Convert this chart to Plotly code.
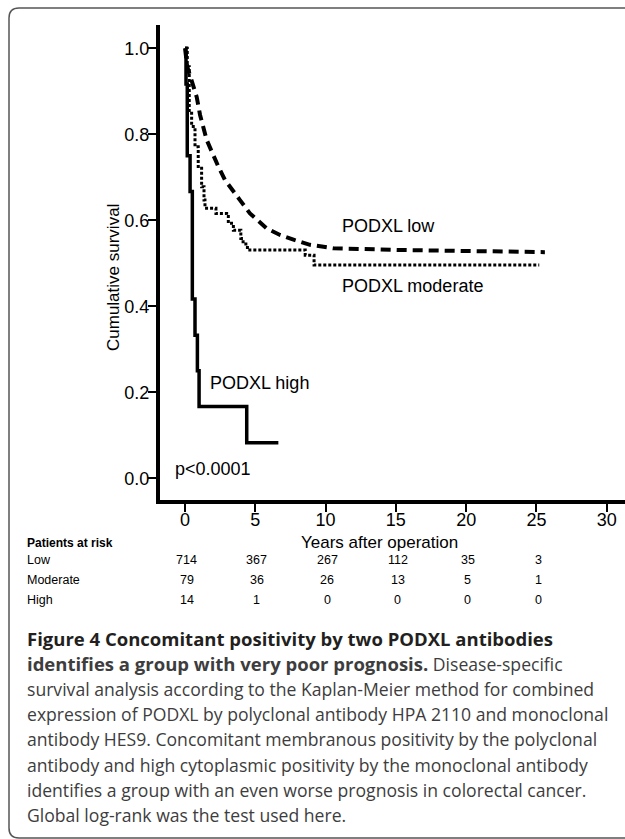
import plotly.graph_objects as go

# ---------------- data ----------------
low_years = [0, 0.16, 0.47, 0.83, 1.07, 1.54, 2.37, 2.84, 3.91, 4.62, 5.81, 6.76, 7.82, 8.89, 10.55, 15.3, 25.6]
low_surv = [1.0, 0.957, 0.925, 0.887, 0.845, 0.787, 0.725, 0.694, 0.647, 0.616, 0.581, 0.566, 0.554, 0.543, 0.535, 0.531, 0.526]

mod_years = [0, 0.16, 0.30, 0.47, 0.71, 0.94, 1.18, 1.35, 1.42, 2.2, 2.96, 3.08, 3.44, 3.97, 4.13, 4.44, 8.55, 9.18, 25.2]
mod_surv = [1.0, 0.957, 0.849, 0.818, 0.771, 0.725, 0.678, 0.647, 0.628, 0.616, 0.609, 0.593, 0.577, 0.558, 0.545, 0.531, 0.519, 0.496, 0.496]

high_years = [0, 0.07, 0.16, 0.36, 0.52, 0.71, 0.88, 1.0, 4.39, 6.64]
high_surv = [1.0, 0.917, 0.75, 0.667, 0.417, 0.333, 0.25, 0.167, 0.083, 0.083]

x_ticks = [0, 5, 10, 15, 20, 25, 30]
y_ticks = [0.0, 0.2, 0.4, 0.6, 0.8, 1.0]
y_tick_labels = ["0.0", "0.2", "0.4", "0.6", "0.8", "1.0"]

risk_years = [0, 5, 10, 15, 20, 25]
risk_groups = ["Low", "Moderate", "High"]
risk_low = [714, 367, 267, 112, 35, 3]
risk_mod = [79, 36, 26, 13, 5, 1]
risk_high = [14, 1, 0, 0, 0, 0]

BOLD = '<span style="font-size:18.5px"><b>{}</b></span>'
caption_lines = [
    BOLD.format("Figure 4 Concomitant positivity by two PODXL antibodies"),
    BOLD.format("identifies a group with very poor prognosis.") + " Disease-specific",
    "survival analysis according to the Kaplan-Meier method for combined",
    "expression of PODXL by polyclonal antibody HPA 2110 and monoclonal",
    "antibody HES9. Concomitant membranous positivity by the polyclonal",
    "antibody and high cytoplasmic positivity by the monoclonal antibody",
    "identifies a group with an even worse prognosis in colorectal cancer.",
    "Global log-rank was the test used here.",
]

# ---------------- layout helpers (pixel -> paper) ----------------
W, H = 625, 839
L, R, T, B = 160, 625, 25, 500


def pxx(x):
    return (x - L) / (R - L)


def pxy(y):
    return (B - y) / (B - T)


FONT = "Liberation Sans, Arial, sans-serif"
CAP_FONT = "Open Sans, sans-serif"

fig = go.Figure()
fig.add_trace(go.Scatter(x=low_years, y=low_surv, mode="lines", line_shape="linear",
                         line=dict(color="black", width=4, dash="10px,6px"), name="Low"))
fig.add_trace(go.Scatter(x=mod_years, y=mod_surv, mode="lines", line_shape="hv",
                         line=dict(color="black", width=3, dash="3px,2px"), name="Moderate"))
fig.add_trace(go.Scatter(x=high_years, y=high_surv, mode="lines", line_shape="hv",
                         line=dict(color="black", width=3.5), name="High"))

fig.update_layout(
    width=W, height=H,
    margin=dict(l=L, r=W - R, t=T, b=H - B, pad=0),
    paper_bgcolor="white", plot_bgcolor="white",
    showlegend=False,
    font=dict(family=FONT, size=18, color="black"),
)
fig.update_xaxes(range=[-1.78, 31.3], tickvals=x_ticks, ticks="outside", ticklen=8, tickwidth=2,
                 tickcolor="black", showline=True, linewidth=4, linecolor="black",
                 showgrid=False, zeroline=False, ticklabelstandoff=-8,
                 tickfont=dict(size=18, family=FONT))
fig.update_yaxes(range=[-0.0504, 1.0542], tickvals=y_ticks, ticktext=y_tick_labels, ticks="outside",
                 ticklen=8, tickwidth=2, tickcolor="black", showline=True, linewidth=4,
                 linecolor="black", showgrid=False, zeroline=False, ticklabelstandoff=-5,
                 tickfont=dict(size=18, family=FONT))

ann = []
# axis titles
ann.append(dict(text="Cumulative survival", x=pxx(113), y=pxy(278), xref="paper", yref="paper",
                xanchor="center", yanchor="middle",
                textangle=-90, showarrow=False, font=dict(size=17, family=FONT)))
ann.append(dict(text="Years after operation", x=pxx(379), y=pxy(542), xref="paper", yref="paper",
                xanchor="center", yanchor="middle",
                showarrow=False, font=dict(size=17, family=FONT)))
# curve labels
for txt, px_, py_ in [("PODXL low", 340, 226), ("PODXL moderate", 340, 286),
                      ("PODXL high", 208, 383), ("p<0.0001", 173, 469)]:
    ann.append(dict(text=txt, x=pxx(px_), y=pxy(py_), xref="paper", yref="paper", xanchor="left",
                    yanchor="middle", showarrow=False, font=dict(size=18, family=FONT)))

# patients-at-risk table
ann.append(dict(text="<b>Patients at risk</b>", x=pxx(25), y=pxy(543), xref="paper", yref="paper",
                xanchor="left", yanchor="middle", showarrow=False, font=dict(size=12, family=FONT)))
row_y = [560, 580, 600]
for grp, vals, ry in zip(risk_groups, [risk_low, risk_mod, risk_high], row_y):
    ann.append(dict(text=grp, x=pxx(25), y=pxy(ry), xref="paper", yref="paper", xanchor="left",
                    yanchor="middle", showarrow=False, font=dict(size=12.5, family=FONT)))
    for yr, v in zip(risk_years, vals):
        ann.append(dict(text=str(v), x=yr + 0.12, y=pxy(ry), xref="x", yref="paper", xanchor="center",
                        yanchor="middle", showarrow=False, font=dict(size=12.5, family=FONT)))

# caption
for i, line in enumerate(caption_lines):
    ann.append(dict(text=line, x=pxx(25), y=pxy(638 + i * 25.3), xref="paper", yref="paper",
                    xanchor="left", yanchor="middle", showarrow=False,
                    font=dict(size=17.6, family=CAP_FONT,
                              color="#3d3d3d" if i > 0 else "#231f20")))

fig.update_layout(annotations=ann)

# rounded frame around the figure (right edge runs off the page)
x0, y0, x1, y1, r = 9, 8, 660, 838, 10
path = (f"M {pxx(x1)},{pxy(y0)} L {pxx(x0 + r)},{pxy(y0)} "
        f"Q {pxx(x0)},{pxy(y0)} {pxx(x0)},{pxy(y0 + r)} "
        f"L {pxx(x0)},{pxy(y1 - r)} Q {pxx(x0)},{pxy(y1)} {pxx(x0 + r)},{pxy(y1)} "
        f"L {pxx(x1)},{pxy(y1)}")
fig.add_shape(type="path", path=path, xref="paper", yref="paper",
              line=dict(color="#555555", width=1.5), layer="below")

fig.write_html("out.html", config={"displayModeBar": False},
               post_script="document.body.style.margin='0';")
